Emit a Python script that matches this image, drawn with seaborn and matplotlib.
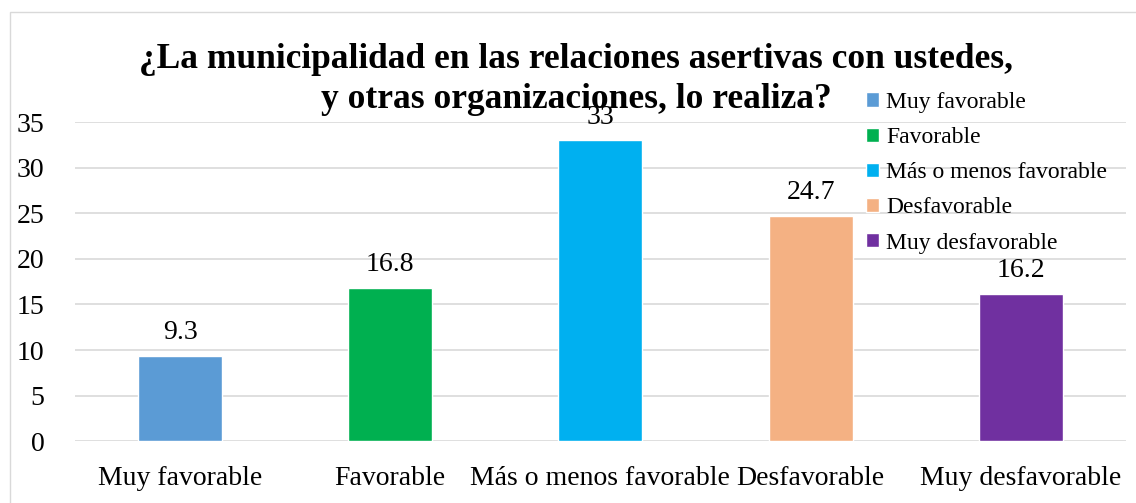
import matplotlib.pyplot as plt
import seaborn as sns
from matplotlib.patches import Patch, Rectangle

categorias = ['Muy favorable', 'Favorable', 'Más o menos favorable', 'Desfavorable', 'Muy desfavorable']
valores = [9.3, 16.8, 33, 24.7, 16.2]
etiquetas = ['9.3', '16.8', '33', '24.7', '16.2']
colores = ['#5B9BD5', '#00B050', '#00B0F0', '#F4B183', '#7030A0']
titulo = '¿La municipalidad en las relaciones asertivas con ustedes,\ny otras organizaciones, lo realiza?'

sns.set_theme(style="white")
plt.rcParams['font.family'] = ['Liberation Serif', 'DejaVu Serif']
plt.rcParams['text.color'] = 'black'
plt.rcParams['xtick.color'] = 'black'
plt.rcParams['ytick.color'] = 'black'

fig = plt.figure(figsize=(11.36, 5.03), dpi=100)
ax = fig.add_axes([0.066, 0.123, 0.925, 0.634])

sns.barplot(x=categorias, y=valores, hue=categorias, palette=colores,
            width=0.4, legend=False, ax=ax, saturation=1)

for i, (v, t) in enumerate(zip(valores, etiquetas)):
    ax.text(i, v + 1.2, t, ha='center', va='bottom', fontsize=20)

ax.set_ylim(0, 35)
ax.set_yticks(range(0, 36, 5))
ax.yaxis.grid(True, color='#D9D9D9', linewidth=1.2)
ax.set_axisbelow(True)
for s in ax.spines.values():
    s.set_visible(False)
ax.tick_params(axis='y', labelsize=20, length=0, pad=22)
ax.tick_params(axis='x', labelsize=20, length=0, pad=18)

handles = [Patch(facecolor=c, label=l) for c, l in zip(colores, categorias)]
fig.legend(handles=handles, loc='upper left', bbox_to_anchor=(0.754, 0.836),
           frameon=False, fontsize=17, handlelength=0.55, handleheight=0.55,
           handletextpad=0.3, labelspacing=0.6, borderaxespad=0)

fig.text(0.507, 0.915, titulo, ha='center', va='top', fontsize=25.5,
         fontweight='bold', linespacing=1.28)

fig.patches.append(Rectangle((0.009, -0.01), 1.0, 0.986, transform=fig.transFigure,
                             fill=False, edgecolor='#D9D9D9', linewidth=1))

fig.savefig('out.png', dpi=100)
